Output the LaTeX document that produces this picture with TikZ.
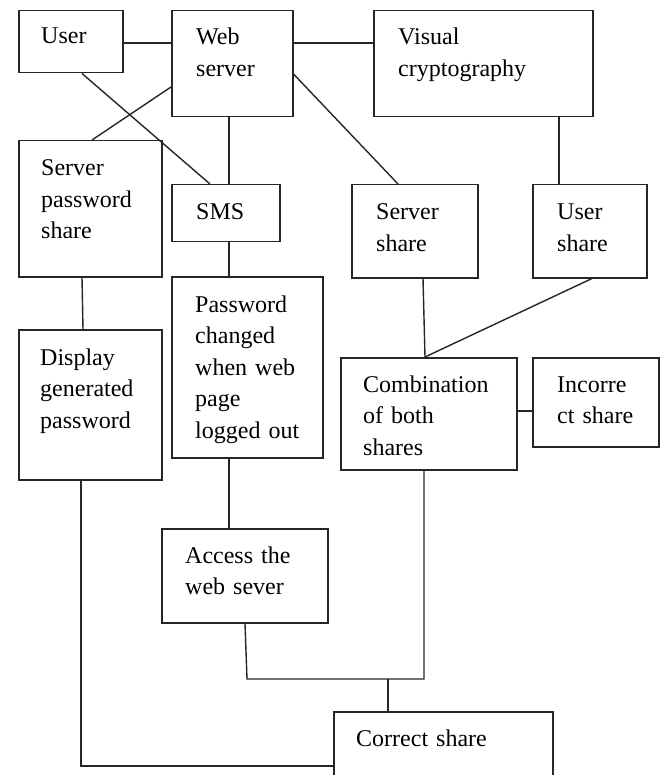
\documentclass[tikz,border=0pt]{standalone}
\usepackage{fontspec}
\setmainfont{Liberation Serif}
\begin{document}
\begin{tikzpicture}[x=1pt,y=-1pt,
  box/.style={draw=black!85, line width=1.5pt, inner sep=0pt, anchor=north west},
  txt/.style={anchor=base west, inner sep=0pt, text width=150pt, align=left,
              font=\fontsize{24}{31.5}\selectfont, text=black},
  link/.style={draw=black!85, line width=1.4pt}]
\useasboundingbox (0,0) rectangle (666,775);
\clip (0,0) rectangle (666,775);
\fill[white] (0,0) rectangle (666,775);

% boxes (top-left corner, width, height)
\node[box, minimum width=104pt, minimum height=62pt]  (user)   at (18,10)  {};
\node[box, minimum width=121pt, minimum height=106pt] (web)    at (171,10) {};
\node[box, minimum width=219pt, minimum height=106pt] (visual) at (373,10) {};
\node[box, minimum width=143pt, minimum height=136pt] (sps)    at (18,140) {};
\node[box, minimum width=108pt, minimum height=57pt]  (sms)    at (171,184) {};
\node[box, minimum width=126pt, minimum height=93pt]  (ss)     at (351,184) {};
\node[box, minimum width=114pt, minimum height=93pt]  (us)     at (532,184) {};
\node[box, minimum width=143pt, minimum height=150pt] (disp)   at (18,329) {};
\node[box, minimum width=151pt, minimum height=181pt] (pwd)    at (171,276) {};
\node[box, minimum width=176pt, minimum height=112pt] (comb)   at (340,357) {};
\node[box, minimum width=126pt, minimum height=89pt]  (inc)    at (532,357) {};
\node[box, minimum width=166pt, minimum height=94pt]  (acc)    at (161,528) {};
\node[box, minimum width=219pt, minimum height=100pt] (corr)   at (333,711) {};

% labels
\node[txt] (user-t)   at ([shift={(23,34)}]user.north west)   {User};
\node[txt] (web-t)    at ([shift={(25,35)}]web.north west)    {Web\\server};
\node[txt] (visual-t) at ([shift={(25,35)}]visual.north west) {Visual\\cryptography};
\node[txt] (sps-t)    at ([shift={(23,36)}]sps.north west)    {Server\\password\\share};
\node[txt] (sms-t)    at ([shift={(25,36)}]sms.north west)    {SMS};
\node[txt] (ss-t)     at ([shift={(25,36)}]ss.north west)     {Server\\share};
\node[txt] (us-t)     at ([shift={(25,36)}]us.north west)     {User\\share};
\node[txt] (disp-t)   at ([shift={(22,36)}]disp.north west)   {Display\\generated\\password};
\node[txt] (pwd-t)    at ([shift={(24,36)}]pwd.north west)    {Password\\changed\\when web\\page\\logged out};
\node[txt] (comb-t)   at ([shift={(23,35)}]comb.north west)   {Combination\\of both\\shares};
\node[txt] (inc-t)    at ([shift={(25,35)}]inc.north west)    {Incorre\\ct share};
\node[txt] (acc-t)    at ([shift={(24,35)}]acc.north west)    {Access the\\web sever};
\node[txt] (corr-t)   at ([shift={(23,35)}]corr.north west)   {Correct share};

% junction points of the lower routing
\coordinate (ja) at (247,679);
\coordinate (jc) at (424,679);
\coordinate (j)  at (388,679);
\coordinate (jd) at (81,766);

% connectors
\path[link] ([yshift=-33pt]user.north east) -- ([yshift=-33pt]web.north west);
\path[link] ([yshift=-33pt]web.north east) -- ([yshift=-33pt]visual.north west);
\path[link] ([xshift=58pt]web.south west) -- ([xshift=58pt]sms.north west);
\path[link] ([xshift=64pt]user.south west) -- ([xshift=39pt]sms.north west);
\path[link] ([yshift=-77pt]web.north west) -- ([xshift=74pt]sps.north west);
\path[link] ([yshift=-64pt]web.north east) -- ([xshift=47pt]ss.north west);
\path[link] ([xshift=186pt]visual.south west) -- ([xshift=27pt]us.north west);
\path[link] ([xshift=64pt]sps.south west) -- ([xshift=65pt]disp.north west);
\path[link] ([xshift=58pt]sms.south west) -- ([xshift=58pt]pwd.north west);
\path[link] ([xshift=58pt]pwd.south west) -- ([xshift=68pt]acc.north west);
\path[link] ([xshift=72pt]ss.south west) -- ([xshift=85pt]comb.north west);
\path[link] ([xshift=60pt]us.south west) -- ([xshift=85pt]comb.north west);
\path[link] ([yshift=-54pt]comb.north east) -- ([yshift=-54pt]inc.north west);
\path[link] ([xshift=84pt]acc.south west) -- (ja) -- (jc) -- ([xshift=84pt]comb.south west);
\path[link] (j) -- ([xshift=55pt]corr.north west);
\path[link] ([xshift=63pt]disp.south west) -- (jd) -- (jd -| corr.west);
\end{tikzpicture}
\end{document}
